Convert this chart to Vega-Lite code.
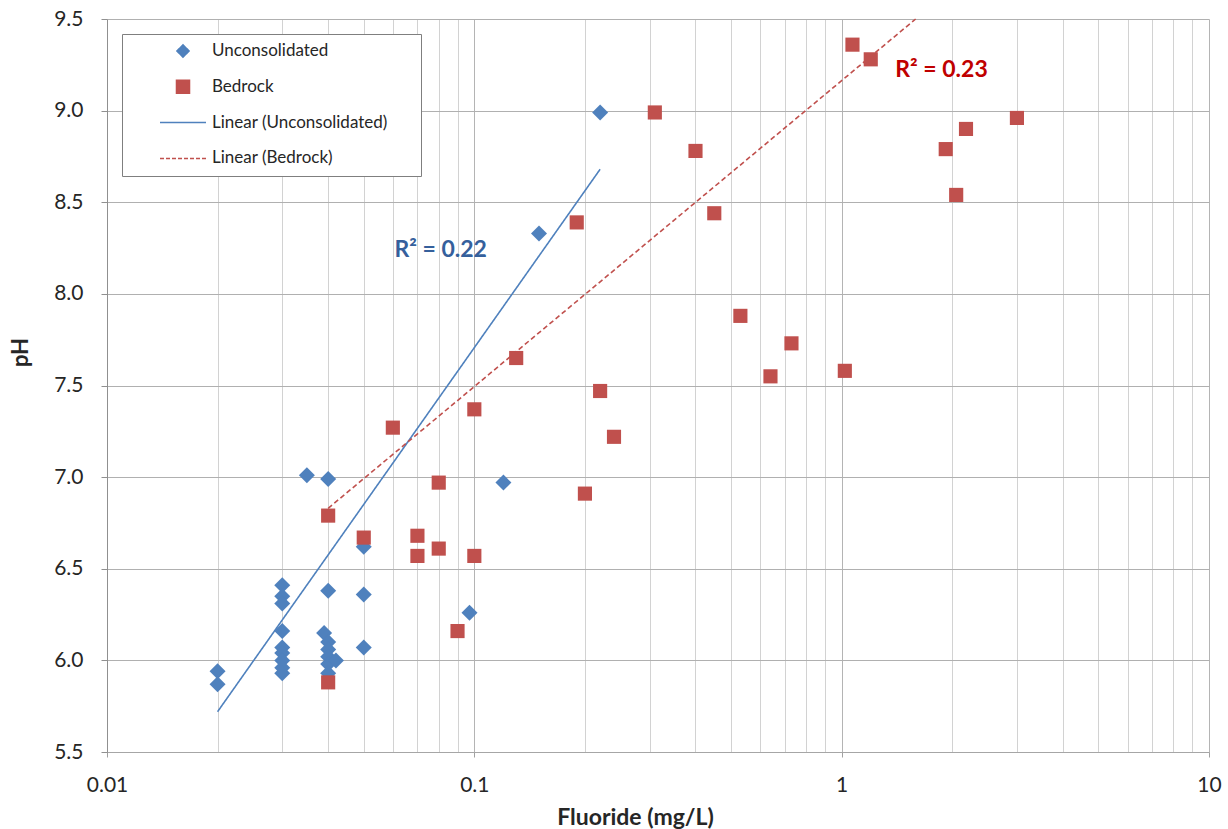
{
  "$schema": "https://vega.github.io/schema/vega-lite/v6.json",
  "width": 1102,
  "height": 733,
  "autosize": "none",
  "padding": {"left": 107, "top": 19, "right": 19, "bottom": 77},
  "background": "white",
  "config": {
    "view": {"stroke": null},
    "font": "Lato",
    "axis": {"labelFont": "Lato", "titleFont": "Lato", "labelColor": "#262626", "titleColor": "#262626"}
  },
  "datasets": {
    "pts": [
      {"f": 0.02, "ph": 5.94, "series": "Unconsolidated"},
      {"f": 0.02, "ph": 5.87, "series": "Unconsolidated"},
      {"f": 0.03, "ph": 6.41, "series": "Unconsolidated"},
      {"f": 0.03, "ph": 6.35, "series": "Unconsolidated"},
      {"f": 0.03, "ph": 6.31, "series": "Unconsolidated"},
      {"f": 0.03, "ph": 6.16, "series": "Unconsolidated"},
      {"f": 0.03, "ph": 6.07, "series": "Unconsolidated"},
      {"f": 0.03, "ph": 6.04, "series": "Unconsolidated"},
      {"f": 0.03, "ph": 6.0, "series": "Unconsolidated"},
      {"f": 0.03, "ph": 5.96, "series": "Unconsolidated"},
      {"f": 0.03, "ph": 5.93, "series": "Unconsolidated"},
      {"f": 0.035, "ph": 7.01, "series": "Unconsolidated"},
      {"f": 0.039, "ph": 6.15, "series": "Unconsolidated"},
      {"f": 0.04, "ph": 6.99, "series": "Unconsolidated"},
      {"f": 0.04, "ph": 6.38, "series": "Unconsolidated"},
      {"f": 0.04, "ph": 6.1, "series": "Unconsolidated"},
      {"f": 0.04, "ph": 6.06, "series": "Unconsolidated"},
      {"f": 0.04, "ph": 6.02, "series": "Unconsolidated"},
      {"f": 0.04, "ph": 5.98, "series": "Unconsolidated"},
      {"f": 0.04, "ph": 5.93, "series": "Unconsolidated"},
      {"f": 0.042, "ph": 6.0, "series": "Unconsolidated"},
      {"f": 0.05, "ph": 6.62, "series": "Unconsolidated"},
      {"f": 0.05, "ph": 6.36, "series": "Unconsolidated"},
      {"f": 0.05, "ph": 6.07, "series": "Unconsolidated"},
      {"f": 0.097, "ph": 6.26, "series": "Unconsolidated"},
      {"f": 0.12, "ph": 6.97, "series": "Unconsolidated"},
      {"f": 0.15, "ph": 8.33, "series": "Unconsolidated"},
      {"f": 0.22, "ph": 8.99, "series": "Unconsolidated"},
      {"f": 0.04, "ph": 6.79, "series": "Bedrock"},
      {"f": 0.04, "ph": 5.88, "series": "Bedrock"},
      {"f": 0.05, "ph": 6.67, "series": "Bedrock"},
      {"f": 0.06, "ph": 7.27, "series": "Bedrock"},
      {"f": 0.07, "ph": 6.68, "series": "Bedrock"},
      {"f": 0.07, "ph": 6.57, "series": "Bedrock"},
      {"f": 0.08, "ph": 6.97, "series": "Bedrock"},
      {"f": 0.08, "ph": 6.61, "series": "Bedrock"},
      {"f": 0.09, "ph": 6.16, "series": "Bedrock"},
      {"f": 0.1, "ph": 7.37, "series": "Bedrock"},
      {"f": 0.1, "ph": 6.57, "series": "Bedrock"},
      {"f": 0.13, "ph": 7.65, "series": "Bedrock"},
      {"f": 0.19, "ph": 8.39, "series": "Bedrock"},
      {"f": 0.2, "ph": 6.91, "series": "Bedrock"},
      {"f": 0.22, "ph": 7.47, "series": "Bedrock"},
      {"f": 0.24, "ph": 7.22, "series": "Bedrock"},
      {"f": 0.31, "ph": 8.99, "series": "Bedrock"},
      {"f": 0.4, "ph": 8.78, "series": "Bedrock"},
      {"f": 0.45, "ph": 8.44, "series": "Bedrock"},
      {"f": 0.53, "ph": 7.88, "series": "Bedrock"},
      {"f": 0.64, "ph": 7.55, "series": "Bedrock"},
      {"f": 0.73, "ph": 7.73, "series": "Bedrock"},
      {"f": 1.02, "ph": 7.58, "series": "Bedrock"},
      {"f": 1.07, "ph": 9.36, "series": "Bedrock"},
      {"f": 1.2, "ph": 9.28, "series": "Bedrock"},
      {"f": 1.92, "ph": 8.79, "series": "Bedrock"},
      {"f": 2.05, "ph": 8.54, "series": "Bedrock"},
      {"f": 2.18, "ph": 8.9, "series": "Bedrock"},
      {"f": 3.0, "ph": 8.96, "series": "Bedrock"}
    ],
    "trend": [
      {"f": 0.02, "ph": 5.72, "series": "Linear (Unconsolidated)"},
      {"f": 0.22, "ph": 8.68, "series": "Linear (Unconsolidated)"},
      {"f": 0.04, "ph": 6.83, "series": "Linear (Bedrock)"},
      {"f": 1.59, "ph": 9.5, "series": "Linear (Bedrock)"}
    ],
    "notes": [
      {"f": 0.081, "ph": 8.24, "text": "R² = 0.22", "which": "u"},
      {"f": 1.87, "ph": 9.22, "text": "R² = 0.23", "which": "b"}
    ]
  },
  "encoding": {
    "x": {
      "field": "f", "type": "quantitative",
      "scale": {"type": "log", "domain": [0.01, 10], "nice": false},
      "axis": {
        "title": "Fluoride (mg/L)",
        "titleX": 528,
        "values": [0.01,0.02,0.03,0.04,0.05,0.06,0.07,0.08,0.09,0.1,0.2,0.3,0.4,0.5,0.6,0.7,0.8,0.9,1,2,3,4,5,6,7,8,9,10],
        "format": "~g",
        "labelExpr": "indexof([0.01,0.1,1,10], datum.value) >= 0 ? datum.label : ''",
        "grid": true,
        "gridColor": {"condition": {"test": "indexof([0.01,0.1,1,10], datum.value) >= 0", "value": "#B4B4B4"}, "value": "#D2D2D2"},
        "gridWidth": 1,
        "tickColor": "#A0A0A0",
        "tickOpacity": {"condition": {"test": "indexof([0.01,0.1,1,10], datum.value) >= 0", "value": 1}, "value": 0},
        "tickSize": 5,
        "domainColor": "#A6A6A6",
        "labelFontSize": 21,
        "labelPadding": 17,
        "labelFlush": false,
        "titleFontSize": 23,
        "titleFontWeight": "bold",
        "titlePadding": 11
      }
    },
    "y": {
      "field": "ph", "type": "quantitative",
      "scale": {"domain": [5.5, 9.5], "nice": false, "zero": false},
      "axis": {
        "title": "pH",
        "titleY": 333,
        "values": [5.5,6.0,6.5,7.0,7.5,8.0,8.5,9.0,9.5],
        "format": ".1f",
        "grid": true,
        "gridColor": "#B0B0B0",
        "gridWidth": 1.2,
        "tickColor": "#909090",
        "tickSize": 6,
        "domainColor": "#909090",
        "labelFontSize": 21,
        "labelPadding": 18,
        "titleFontSize": 22,
        "titleFontWeight": "bold",
        "titlePadding": 21
      }
    }
  },
  "layer": [
    {
      "data": {"name": "trend"},
      "mark": {"type": "line", "strokeWidth": 1.6},
      "encoding": {
        "color": {
          "field": "series", "type": "nominal",
          "scale": {"domain": ["Unconsolidated", "Bedrock", "Linear (Unconsolidated)", "Linear (Bedrock)"], "range": ["#4F81BD", "#C0504D", "#4F81BD", "#C0504D"]},
          "legend": {
            "title": "xx",
            "titleOrient": "right",
            "titleColor": "transparent",
            "titleFontSize": 17,
            "titlePadding": 9,
            "orient": "none",
            "legendX": 15,
            "legendY": 15,
            "padding": 6,
            "clipHeight": 22,
            "symbolOffset": 31,
            "symbolSize": 400,
            "labelOffset": 5,
            "rowPadding": 13.8,
            "labelFont": "Lato",
            "labelFontSize": 17,
            "labelLimit": 400,
            "labelColor": "#262626",
            "strokeColor": "#7F7F7F",
            "fillColor": "white",
            "encode": {
              "symbols": {
                "update": {
                  "shape": {"signal": "datum.value === 'Unconsolidated' ? 'diamond' : datum.value === 'Bedrock' ? 'square' : 'stroke'"},
                  "size": {"signal": "datum.value === 'Unconsolidated' ? 150 : datum.value === 'Bedrock' ? 170 : 2116"},
                  "fill": {"signal": "indexof(datum.value, 'Linear') === 0 ? 'transparent' : scale('color', datum.value)"},
                  "stroke": {"signal": "indexof(datum.value, 'Linear') === 0 ? scale('color', datum.value) : 'transparent'"},
                  "strokeDash": {"signal": "datum.value === 'Linear (Bedrock)' ? [4, 2] : [1, 0]"},
                  "strokeWidth": {"value": 1.5},
                  "opacity": {"value": 1}
                }
              }
            }
          }
        },
        "strokeDash": {
          "field": "series", "type": "nominal",
          "scale": {"domain": ["Linear (Unconsolidated)", "Linear (Bedrock)"], "range": [[1, 0], [5, 3]]},
          "legend": null
        },
        "detail": {"field": "series", "type": "nominal"}
      }
    },
    {
      "data": {"name": "pts"},
      "mark": {"type": "point", "filled": true, "opacity": 1},
      "encoding": {
        "color": {"field": "series", "type": "nominal"},
        "shape": {
          "field": "series", "type": "nominal",
          "scale": {"domain": ["Unconsolidated", "Bedrock"], "range": ["diamond", "square"]},
          "legend": null
        },
        "size": {"condition": {"test": "datum.series === 'Unconsolidated'", "value": 256}, "value": 200}
      }
    },
    {
      "data": {"name": "notes"},
      "mark": {"type": "text", "font": "Lato", "fontSize": 23, "fontWeight": "bold", "align": "center", "baseline": "middle"},
      "encoding": {
        "text": {"field": "text", "type": "nominal"},
        "color": {"condition": {"test": "datum.which === 'u'", "value": "#35609C"}, "value": "#C00000"}
      }
    }
  ]
}
